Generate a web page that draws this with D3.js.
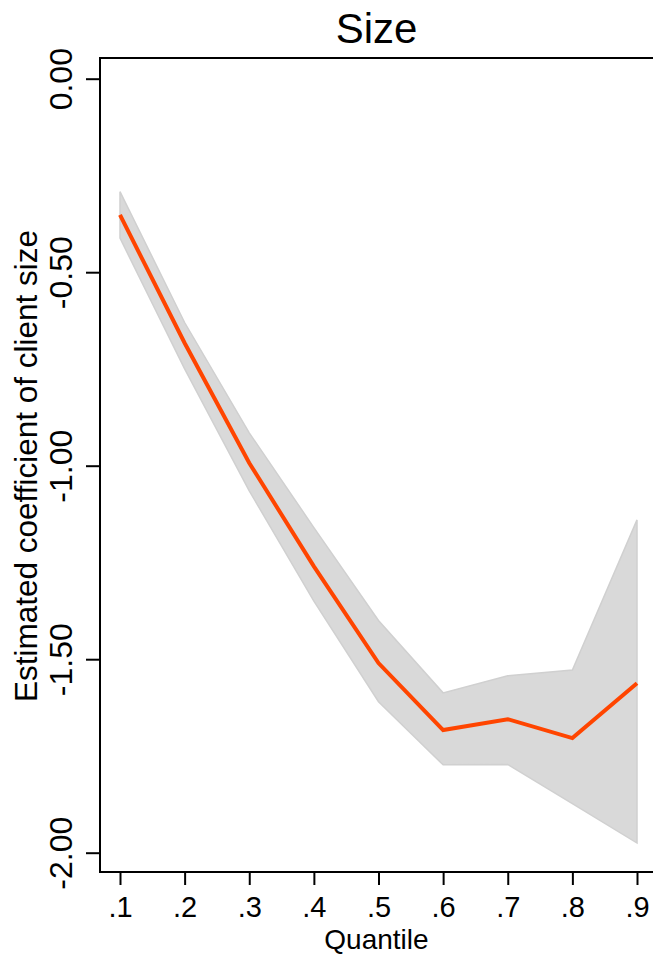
<!DOCTYPE html>
<html>
<head>
<meta charset="utf-8">
<script src="https://cdn.jsdelivr.net/npm/d3@7"></script>
<style>
  html, body { margin: 0; padding: 0; background: #ffffff; }
  svg { display: block; }
  text { font-family: "Liberation Sans", Arial, Helvetica, sans-serif; fill: #000; }
</style>
</head>
<body>
<svg id="chart" width="653" height="956"></svg>
<script>
// Quantile regression: estimated coefficient of client size, with confidence band
const quantiles = [0.1, 0.2, 0.3, 0.4, 0.5, 0.6, 0.7, 0.8, 0.9];
const quantileLabels = [".1", ".2", ".3", ".4", ".5", ".6", ".7", ".8", ".9"];
const coef  = [-0.352, -0.683, -0.993, -1.26, -1.51, -1.683, -1.655, -1.704, -1.562];
const upper = [-0.292, -0.63, -0.915, -1.16, -1.40, -1.587, -1.543, -1.528, -1.14];
const lower = [-0.412, -0.75, -1.065, -1.35, -1.61, -1.773, -1.772, -1.873, -1.975];
const yTicks = [0, -0.5, -1, -1.5, -2];

const svg = d3.select("#chart");
const W = 653;
const frame = { left: 100, top: 58, bottom: 872 };

const x = d3.scaleLinear().domain([0.1, 0.9]).range([120, 637]);
const y = d3.scaleLinear().domain([0, -2]).range([78.7, 852.7]);

const rows = quantiles.map((q, i) => ({ q, c: coef[i], lo: lower[i], hi: upper[i] }));

// confidence band
svg.append("path")
  .datum(rows)
  .attr("d", d3.area().x(d => x(d.q)).y0(d => y(d.lo)).y1(d => y(d.hi)))
  .attr("fill", "#d9d9d9")
  .attr("stroke", "#d0d0d0")
  .attr("stroke-width", 1.5);

// point estimates
svg.append("path")
  .datum(rows)
  .attr("d", d3.line().x(d => x(d.q)).y(d => y(d.c)))
  .attr("fill", "none")
  .attr("stroke", "#ff4500")
  .attr("stroke-width", 4)
  .attr("stroke-linejoin", "miter");

// frame: left axis, top border, bottom axis
const frameG = svg.append("g").attr("stroke", "#000").attr("stroke-width", 2);
frameG.append("line").attr("x1", frame.left).attr("x2", frame.left)
  .attr("y1", frame.top - 1).attr("y2", frame.bottom + 1);
frameG.append("line").attr("x1", frame.left).attr("x2", W)
  .attr("y1", frame.top).attr("y2", frame.top);
frameG.append("line").attr("x1", frame.left).attr("x2", W)
  .attr("y1", frame.bottom).attr("y2", frame.bottom);

// y axis
const yAxis = d3.axisLeft(y)
  .tickValues(yTicks)
  .tickSize(14)
  .tickPadding(0)
  .tickFormat(d => d3.format(".2f")(d).replace("\u2212", "-"));
const yG = svg.append("g").attr("transform", `translate(${frame.left},0)`).call(yAxis);
yG.select(".domain").remove();
yG.selectAll(".tick line").attr("stroke", "#000").attr("stroke-width", 2);
yG.selectAll(".tick text")
  .attr("x", null).attr("dy", null)
  .attr("transform", "translate(-28,0) rotate(-90)")
  .attr("text-anchor", "middle")
  .style("font-size", "32px");

// x axis
const xAxis = d3.axisBottom(x)
  .tickValues(quantiles)
  .tickSize(13)
  .tickPadding(0)
  .tickFormat((d, i) => quantileLabels[i]);
const xG = svg.append("g").attr("transform", `translate(0,${frame.bottom})`).call(xAxis);
xG.select(".domain").remove();
xG.selectAll(".tick line").attr("stroke", "#000").attr("stroke-width", 2);
xG.selectAll(".tick text")
  .attr("y", 45).attr("dy", null)
  .attr("text-anchor", "middle")
  .style("font-size", "29px");

// titles
svg.append("text")
  .attr("x", (frame.left + W) / 2).attr("y", 43)
  .attr("text-anchor", "middle")
  .style("font-size", "42px")
  .text("Size");

svg.append("text")
  .attr("x", (frame.left + W) / 2).attr("y", 949)
  .attr("text-anchor", "middle")
  .style("font-size", "28px")
  .text("Quantile");

svg.append("text")
  .attr("transform", `translate(37,${(frame.top + frame.bottom) / 2 + 1}) rotate(-90)`)
  .attr("text-anchor", "middle")
  .style("font-size", "31.5px")
  .text("Estimated coefficient of client size");
</script>
</body>
</html>
